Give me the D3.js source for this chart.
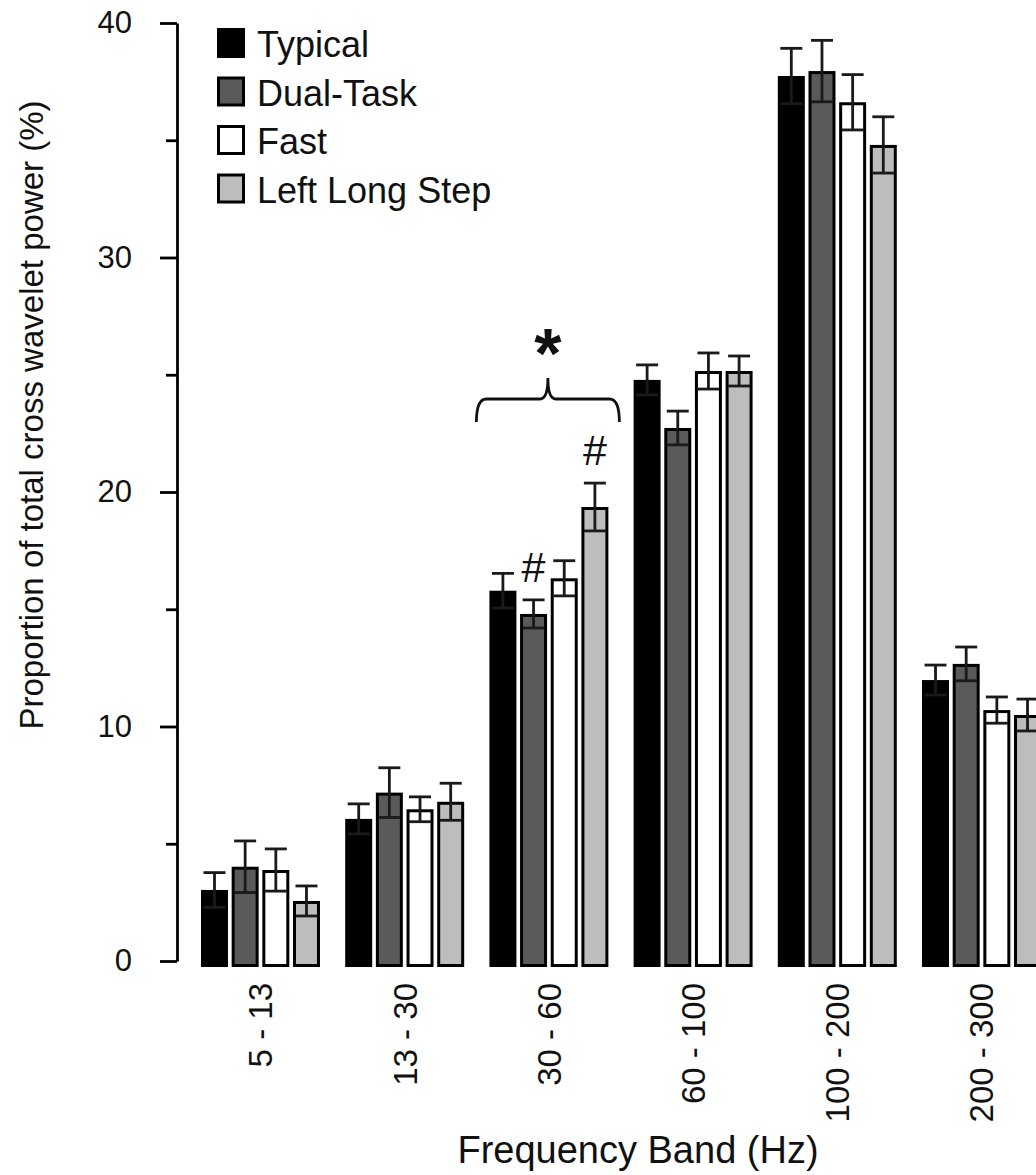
<!DOCTYPE html>
<html>
<head>
<meta charset="utf-8">
<script src="https://cdn.jsdelivr.net/npm/d3@7"></script>
<style>
  body { margin: 0; background: #fff; }
  svg { display: block; font-family: "Liberation Sans", Arial, sans-serif; }
</style>
</head>
<body>
<div id="chart"></div>
<script>
var bands = ["5 - 13", "13 - 30", "30 - 60", "60 - 100", "100 - 200", "200 - 300"];
var conditions = ["Typical", "Dual-Task", "Fast", "Left Long Step"];

// mean % per band, one array per condition
var typical   = [3.03, 6.06, 15.79, 24.78, 37.74, 11.98];
var dualTask  = [4.02, 7.18, 14.80, 22.73, 37.95, 12.67];
var fast      = [3.88, 6.47, 16.32, 25.16, 36.62, 10.70];
var leftLong  = [2.56, 6.79, 19.36, 25.16, 34.80, 10.49];

// standard errors
var typicalErr  = [0.74, 0.64, 0.74, 0.64, 1.18, 0.64];
var dualTaskErr = [1.10, 1.06, 0.60, 0.72, 1.31, 0.72];
var fastErr     = [0.90, 0.53, 0.75, 0.77, 1.18, 0.56];
var leftLongErr = [0.64, 0.79, 1.02, 0.64, 1.20, 0.68];

var yTicks = [0, 10, 20, 30, 40];
var yMinorTicks = [5, 15, 25, 35];

// significance marks
var hashMarks = [
  { band: "30 - 60", condition: "Dual-Task" },
  { band: "30 - 60", condition: "Left Long Step" }
];
var bracketBand = "30 - 60";

var colors = ["#000000", "#5a5a5a", "#ffffff", "#bdbdbd"];
var means = [typical, dualTask, fast, leftLong];
var errs = [typicalErr, dualTaskErr, fastErr, leftLongErr];

var width = 1036;
var height = 1175;

var svg = d3.select("#chart")
  .append("svg")
  .attr("width", width)
  .attr("height", height);

var y = d3.scaleLinear().domain([0, 40]).range([961, 23]);

var x0 = d3.scaleBand()
  .domain(bands)
  .range([201, 1041])
  .paddingInner(0.175)
  .paddingOuter(0);

var x1 = d3.scaleBand()
  .domain(conditions)
  .range([0, x0.bandwidth()])
  .paddingInner(0.12)
  .paddingOuter(0);

var color = d3.scaleOrdinal().domain(conditions).range(colors);

// build rows for bars
var rows = [];
bands.forEach(function (b, i) {
  conditions.forEach(function (c, j) {
    rows.push({ band: b, condition: c, value: means[j][i], err: errs[j][i] });
  });
});

function findRow(b, c) {
  return rows.find(r => r.band === b && r.condition === c);
}

/* y axis */
var yAxis = svg.append("g")
  .attr("transform", "translate(177,0)")
  .call(d3.axisLeft(y).tickValues(yTicks).tickSize(17).tickSizeOuter(0).tickPadding(28));
yAxis.select(".domain").attr("stroke-width", 2.8);
yAxis.selectAll(".tick line").attr("stroke-width", 2.8);
yAxis.selectAll(".tick text")
  .attr("font-size", "31px")
  .attr("font-family", "Liberation Sans, Arial, sans-serif")
  .attr("fill", "#111");

var yMinor = svg.append("g")
  .attr("transform", "translate(177,0)")
  .call(d3.axisLeft(y).tickValues(yMinorTicks).tickSize(11).tickSizeOuter(0).tickFormat(""));
yMinor.select(".domain").remove();
yMinor.selectAll(".tick line").attr("stroke-width", 2.8);

svg.append("text")
  .attr("transform", "translate(43,415) rotate(-90)")
  .attr("text-anchor", "middle")
  .attr("font-size", "33px")
  .attr("fill", "#111")
  .text("Proportion of total cross wavelet power (%)");

/* x labels */
var xAxis = svg.append("g")
  .attr("transform", "translate(0,983)")
  .call(d3.axisBottom(x0).tickSize(0).tickPadding(0));
xAxis.select(".domain").remove();
xAxis.selectAll(".tick text")
  .attr("transform", "rotate(-90)")
  .attr("text-anchor", "end")
  .attr("x", 0)
  .attr("y", 0)
  .attr("dy", "0.36em")
  .attr("font-size", "33px")
  .attr("font-family", "Liberation Sans, Arial, sans-serif")
  .attr("fill", "#111");

svg.append("text")
  .attr("x", 638)
  .attr("y", 1163)
  .attr("text-anchor", "middle")
  .attr("font-size", "38px")
  .attr("fill", "#111")
  .text("Frequency Band (Hz)");

/* bars */
var sw = 3;
svg.append("g")
  .selectAll("rect")
  .data(rows)
  .enter()
  .append("rect")
  .attr("x", d => x0(d.band) + x1(d.condition) + sw / 2)
  .attr("y", d => y(d.value) + sw / 2)
  .attr("width", x1.bandwidth() - sw)
  .attr("height", d => y(0) - y(d.value) + 3)
  .attr("fill", d => color(d.condition))
  .attr("stroke", "#000")
  .attr("stroke-width", sw);

/* error bars */
var capW = 22;
var eb = svg.append("g")
  .attr("stroke", "#1a1a1a")
  .attr("stroke-width", 2.8);
rows.forEach(function (d) {
  var cx = x0(d.band) + x1(d.condition) + x1.bandwidth() / 2;
  eb.append("line")
    .attr("x1", cx).attr("x2", cx)
    .attr("y1", y(d.value - d.err)).attr("y2", y(d.value + d.err));
  eb.append("line")
    .attr("x1", cx - capW / 2).attr("x2", cx + capW / 2)
    .attr("y1", y(d.value + d.err)).attr("y2", y(d.value + d.err));
  eb.append("line")
    .attr("x1", cx - capW / 2).attr("x2", cx + capW / 2)
    .attr("y1", y(d.value - d.err)).attr("y2", y(d.value - d.err));
});

/* # marks */
svg.selectAll(".hash")
  .data(hashMarks)
  .enter()
  .append("text")
  .attr("class", "hash")
  .attr("x", d => x0(d.band) + x1(d.condition) + x1.bandwidth() / 2)
  .attr("y", d => { var r = findRow(d.band, d.condition); return y(r.value + r.err) - 18; })
  .attr("text-anchor", "middle")
  .attr("font-size", "43px")
  .attr("fill", "#111")
  .text("#");

/* bracket with asterisk */
var bl = x0(bracketBand) - 13;
var br = x0(bracketBand) + x0.bandwidth() + 11;
var bm = (bl + br) / 2;
var by = 399;
var bracket = d3.path();
bracket.moveTo(bl, by + 23);
bracket.quadraticCurveTo(bl, by, bl + 10, by);
bracket.lineTo(bm - 8, by);
bracket.quadraticCurveTo(bm, by, bm, by - 21);
bracket.quadraticCurveTo(bm, by, bm + 8, by);
bracket.lineTo(br - 10, by);
bracket.quadraticCurveTo(br, by, br, by + 23);
svg.append("path")
  .attr("d", bracket.toString())
  .attr("fill", "none")
  .attr("stroke", "#111")
  .attr("stroke-width", 2.8);

svg.append("text")
  .attr("x", bm)
  .attr("y", 378)
  .attr("text-anchor", "middle")
  .attr("font-size", "70px")
  .attr("font-weight", "bold")
  .attr("fill", "#111")
  .text("*");

/* legend */
var legend = svg.append("g")
  .selectAll(".legend-item")
  .data(conditions)
  .enter()
  .append("g")
  .attr("class", "legend-item")
  .attr("transform", (d, i) => "translate(217," + (28 + i * 48.5) + ")");
legend.append("rect")
  .attr("x", 1.5)
  .attr("y", 1.5)
  .attr("width", 25)
  .attr("height", 27)
  .attr("fill", d => color(d))
  .attr("stroke", "#000")
  .attr("stroke-width", 3);
legend.append("text")
  .attr("x", 40)
  .attr("y", 29)
  .attr("font-size", "36px")
  .attr("fill", "#111")
  .text(d => d);
</script>
</body>
</html>
